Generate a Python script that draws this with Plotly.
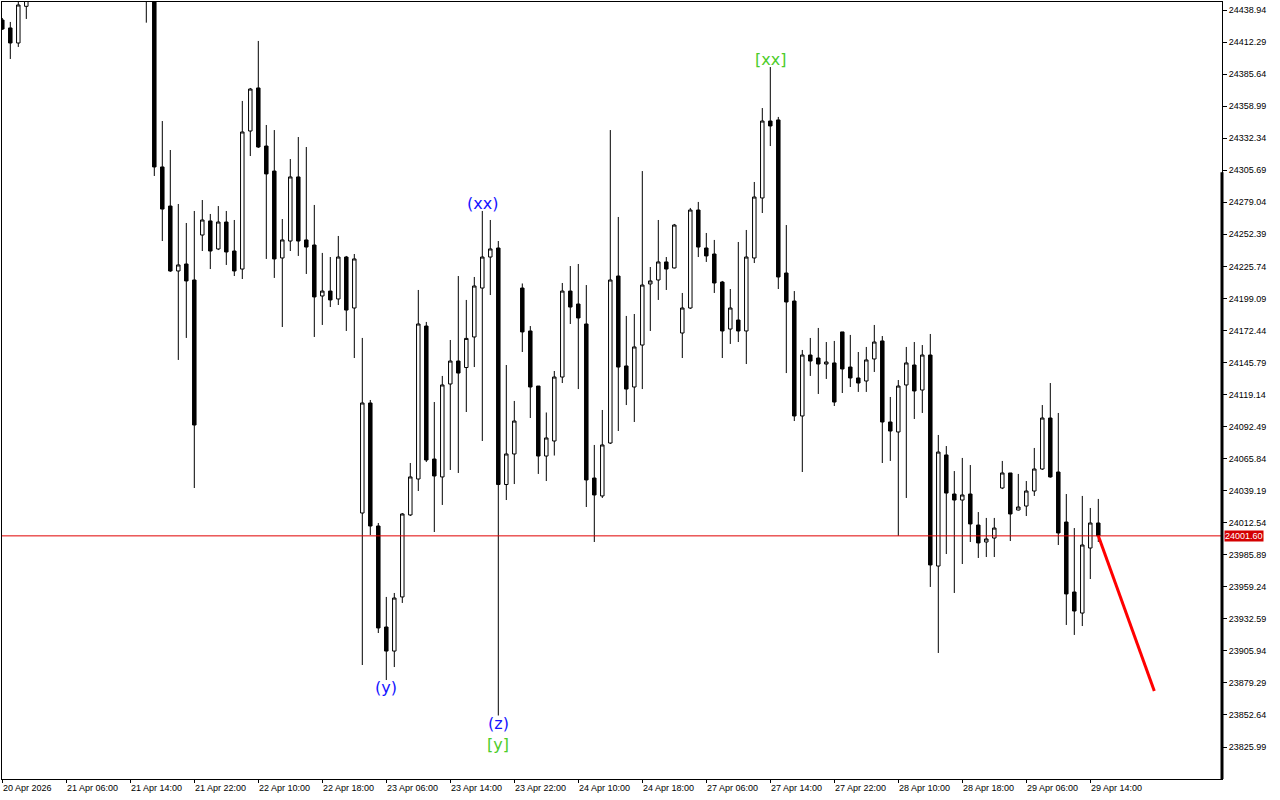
import plotly.graph_objects as go

# H1 bars, 138 of them; bars 4-17 sit above the visible window
opens = [24430.6, 24424.0, 24411.5, 24442.0, 24448.9, 24468, 24488, 24502, 24495, 24512,
         24526, 24520, 24506, 24497, 24488, 24478, 24484, 24475, 24466, 24458,
         24308.4, 24275.9, 24221.9, 24227.7, 24214.4, 24251.8, 24263.5, 24240.2, 24262.6, 24238.5,
         24223.5, 24338.3, 24374.1, 24325.8, 24305.0, 24232.7, 24246.8, 24300.1, 24247.7, 24243.5,
         24201.1, 24205.2, 24198.6, 24233.5, 24191.1, 24020.6, 24112.1, 24009.8, 23925.8, 23905.8,
         23950.8, 24019.0, 24048.9, 24176.1, 24065.5, 24050.6, 24127.9, 24147.0, 24141.6, 24167.0,
         24207.7, 24233.5, 24241.0, 24044.3, 24069.7, 24207.7, 24172.0, 24126.2, 24068.0, 24080.5,
         24133.7, 24205.2, 24194.4, 24177.8, 24049.7, 24034.8, 24078.8, 24217.7, 24142.9, 24125.4,
         24160.3, 24211.1, 24214.4, 24229.4, 24224.4, 24170.3, 24191.1, 24272.6, 24241.0, 24236.0,
         24212.7, 24173.6, 24181.1, 24172.0, 24232.7, 24282.6, 24346.6, 24347.5, 24220.2, 24196.9,
         24101.3, 24152.0, 24149.5, 24144.5, 24145.4, 24171.2, 24142.0, 24132.9, 24130.4, 24148.7,
         24163.7, 24096.3, 24088.0, 24127.1, 24143.7, 24122.9, 24152.0, 23976.5, 24068.9, 24036.4,
         24031.4, 24036.4, 24010.6, 23996.5, 23999.8, 24041.4, 24053.9, 24023.1, 24026.4, 24038.9,
         24057.2, 24099.6, 24054.7, 24013.1, 23954.9, 23937.4, 23991.5, 24012.3]
highs = [24432.3, 24429.0, 24451.4, 24455.6, 24472, 24495, 24510, 24515, 24520, 24534,
         24540, 24532, 24518, 24510, 24500, 24492, 24496, 24486, 24480, 24470,
         24346.6, 24322.5, 24277.6, 24261.8, 24271.8, 24280.9, 24269.3, 24275.9, 24271.8, 24264.3,
         24363.3, 24374.1, 24413.2, 24343.3, 24339.1, 24265.1, 24315.0, 24333.3, 24325.0, 24276.8,
         24236.9, 24233.5, 24251.0, 24234.4, 24236.0, 24166.2, 24114.6, 24012.3, 23950.8, 23954.1,
         24020.6, 24062.2, 24206.1, 24179.5, 24112.9, 24134.6, 24164.5, 24217.7, 24197.8, 24216.9,
         24271.8, 24264.3, 24246.8, 24143.7, 24113.8, 24211.5, 24176.1, 24126.2, 24104.2, 24138.7,
         24211.9, 24226.0, 24227.7, 24210.2, 24077.2, 24106.3, 24339.1, 24266.8, 24184.5, 24186.1,
         24305.0, 24225.2, 24264.3, 24233.5, 24261.0, 24203.6, 24274.3, 24279.3, 24253.5, 24247.7,
         24213.6, 24206.9, 24246.0, 24256.0, 24295.9, 24357.4, 24391.5, 24350.0, 24260.1, 24205.2,
         24156.2, 24166.2, 24174.5, 24162.8, 24163.7, 24171.2, 24168.7, 24154.5, 24158.7, 24177.0,
         24167.8, 24117.1, 24131.2, 24158.7, 24162.8, 24160.3, 24169.5, 24085.5, 24076.3, 24055.5,
         24066.4, 24060.5, 24021.4, 24016.5, 24016.5, 24063.9, 24053.9, 24053.1, 24047.2, 24074.7,
         24110.4, 24128.7, 24103.8, 24036.4, 24008.1, 24034.8, 24024.8, 24032.3]
lows = [24422.3, 24398.2, 24408.2, 24431.5, 24450, 24462, 24480, 24490, 24488, 24505,
        24515, 24500, 24490, 24482, 24470, 24466, 24470, 24458, 24428.4, 24300.9,
        24246.8, 24221.1, 24147.9, 24166.2, 24041.4, 24238.5, 24223.5, 24239.3, 24226.9, 24217.7,
        24215.2, 24317.5, 24324.2, 24231.9, 24216.1, 24175.3, 24238.5, 24234.4, 24219.4, 24167.0,
        24177.0, 24191.9, 24193.6, 24172.0, 24149.5, 23894.2, 24002.3, 23920.8, 23881.7, 23892.5,
        23945.8, 24018.1, 24038.9, 24063.0, 24004.8, 24027.3, 24056.4, 24053.9, 24104.6, 24142.0,
        24080.5, 24201.9, 23852.2, 24031.4, 24044.7, 24154.5, 24099.6, 24053.1, 24047.2, 24068.4,
        24128.7, 24177.8, 24123.7, 24025.6, 23996.5, 24033.1, 24078.0, 24088.8, 24110.4, 24096.3,
        24123.7, 24172.0, 24197.8, 24206.1, 24224.0, 24149.5, 24190.3, 24233.5, 24229.4, 24203.6,
        24149.5, 24161.2, 24162.8, 24144.5, 24228.5, 24270.1, 24325.8, 24206.9, 24137.0, 24097.1,
        24054.7, 24134.6, 24119.6, 24132.1, 24109.6, 24120.4, 24125.4, 24121.3, 24121.3, 24137.9,
        24062.2, 24063.9, 24001.6, 24033.1, 24098.8, 24103.8, 23959.1, 23904.2, 23986.5, 23954.1,
        23978.2, 23996.5, 23983.2, 23984.0, 23984.0, 24040.5, 23997.3, 24022.7, 24018.1, 24034.8,
        24056.4, 24050.0, 23994.0, 23927.5, 23919.2, 23926.6, 23965.7, 23996.5]
closes = [24423.1, 24411.5, 24443.1, 24448.9, 24468, 24488, 24502, 24495, 24512, 24526,
          24520, 24506, 24497, 24488, 24478, 24484, 24475, 24466, 24458, 24308.4,
          24273.4, 24221.9, 24226.9, 24213.6, 24093.8, 24264.3, 24238.5, 24262.6, 24237.7, 24221.9,
          24337.5, 24373.2, 24325.0, 24302.6, 24231.9, 24247.7, 24300.1, 24246.8, 24241.8, 24200.3,
          24205.2, 24197.8, 24233.5, 24189.4, 24231.9, 24112.1, 24009.8, 23925.0, 23905.8, 23949.9,
          24019.8, 24050.6, 24177.8, 24064.7, 24051.4, 24127.1, 24147.0, 24137.0, 24165.8, 24209.4,
          24233.5, 24240.2, 24044.3, 24069.7, 24097.1, 24171.2, 24125.4, 24068.0, 24083.0, 24133.7,
          24205.2, 24191.9, 24182.8, 24048.1, 24035.6, 24077.2, 24214.4, 24142.0, 24123.7, 24158.7,
          24210.2, 24213.6, 24229.4, 24223.5, 24260.1, 24191.1, 24272.6, 24241.8, 24234.4, 24211.9,
          24172.0, 24191.1, 24172.0, 24233.5, 24283.4, 24346.6, 24342.5, 24216.9, 24196.1, 24101.3,
          24152.0, 24147.0, 24144.5, 24146.2, 24112.9, 24140.4, 24132.9, 24128.7, 24147.9, 24162.8,
          24096.3, 24088.8, 24126.2, 24145.4, 24122.1, 24152.0, 23977.4, 24071.3, 24037.2, 24031.4,
          24035.6, 24011.5, 23995.7, 23999.0, 24008.1, 24053.9, 24019.8, 24025.6, 24038.9, 24057.2,
          24099.6, 24050.6, 24004.0, 23953.3, 23939.1, 23994.0, 24012.3, 24001.6]

time_labels = ["20 Apr 2026", "21 Apr 06:00", "21 Apr 14:00", "21 Apr 22:00", "22 Apr 10:00",
               "22 Apr 18:00", "23 Apr 06:00", "23 Apr 14:00", "23 Apr 22:00", "24 Apr 10:00",
               "24 Apr 18:00", "27 Apr 06:00", "27 Apr 14:00", "27 Apr 22:00", "28 Apr 10:00",
               "28 Apr 18:00", "29 Apr 06:00", "29 Apr 14:00"]
label_bars = [0, 8, 16, 24, 32, 40, 48, 56, 64, 72, 80, 88, 96, 104, 112, 120, 128, 136]

price_ticks = [24438.94, 24412.29, 24385.64, 24358.99, 24332.34, 24305.69, 24279.04, 24252.39,
               24225.74, 24199.09, 24172.44, 24145.79, 24119.14, 24092.49, 24065.84, 24039.19,
               24012.54, 23985.89, 23959.24, 23932.59, 23905.94, 23879.29, 23852.64, 23825.99]

last_price = 24001.60
forecast_bars = [137, 144]
forecast_prices = [24001.6, 23872.5]

wave_text = ["(xx)", "(y)", "(z)", "[y]", "[xx]"]
wave_bar = [60, 48, 62, 62, 96]
wave_side = ["high", "low", "low", "low", "high"]
wave_color = ["#1414ff", "#1414ff", "#1414ff", "#4ccc2a", "#4ccc2a"]

bars = list(range(len(opens)))

fig = go.Figure()
fig.add_trace(go.Candlestick(
    x=bars, open=opens, high=highs, low=lows, close=closes,
    increasing=dict(line=dict(color="black", width=1), fillcolor="white"),
    decreasing=dict(line=dict(color="black", width=1), fillcolor="black"),
    whiskerwidth=0, hoverinfo="skip", showlegend=False,
))
fig.add_trace(go.Scatter(
    x=forecast_bars, y=forecast_prices, mode="lines",
    line=dict(color="#ff0000", width=3), hoverinfo="skip", showlegend=False,
))

fig.add_hline(y=last_price, line=dict(color="#e00000", width=1))

# thick part of right frame
fig.add_shape(type="line", xref="paper", yref="paper", x0=1, x1=1, y0=0, y1=0.781,
              line=dict(color="black", width=3))

fig.add_annotation(x=1, xref="paper", y=last_price, yref="y", text="24001.60",
                   showarrow=False, xanchor="left", xshift=2, bgcolor="#d40000",
                   font=dict(family="Liberation Sans", size=9, color="white"), borderpad=0)

for b, t in zip(label_bars, time_labels):
    fig.add_annotation(x=b, y=0, yref="paper", text=t, showarrow=False,
                       xanchor="left", yanchor="top", yshift=-2, xshift=-1,
                       font=dict(family="Liberation Sans", size=9, color="black"))

shift = {}
for t, b, s, c in zip(wave_text, wave_bar, wave_side, wave_color):
    yv = highs[b] if s == "high" else lows[b]
    extra = shift.get((b, s), 0)
    fig.add_annotation(x=b, y=yv, text=t, showarrow=False,
                       yanchor="bottom" if s == "high" else "top",
                       yshift=(3 - extra) if s == "low" else (extra - 3), borderpad=0,
                       font=dict(family="DejaVu Sans", size=16, color=c))
    shift[(b, s)] = extra + 21

fig.update_layout(
    width=1280, height=800,
    margin=dict(l=2, r=58, t=2, b=21),
    paper_bgcolor="white", plot_bgcolor="white",
    xaxis=dict(range=[-0.0375, 152.4625], rangeslider=dict(visible=False),
               showgrid=False, zeroline=False, showline=True, mirror=True,
               linecolor="black", linewidth=1, tickvals=label_bars,
               showticklabels=False, ticks="outside", ticklen=3, tickcolor="black"),
    yaxis=dict(range=[23799.39, 24445.59], side="right", showgrid=False, zeroline=False,
               showline=True, mirror=True, linecolor="black", linewidth=1,
               tickvals=price_ticks, ticktext=[f"{v:.2f}" for v in price_ticks],
               ticks="outside", ticklen=4, tickcolor="black",
               tickfont=dict(family="Liberation Sans", size=9, color="black")),
    boxgap=0.38,
)

# drop the page's default body margin so the 1280x800 figure sits at the origin
fig.write_html("out.html", config={"displayModeBar": False},
               post_script="document.body.style.margin='0';")
